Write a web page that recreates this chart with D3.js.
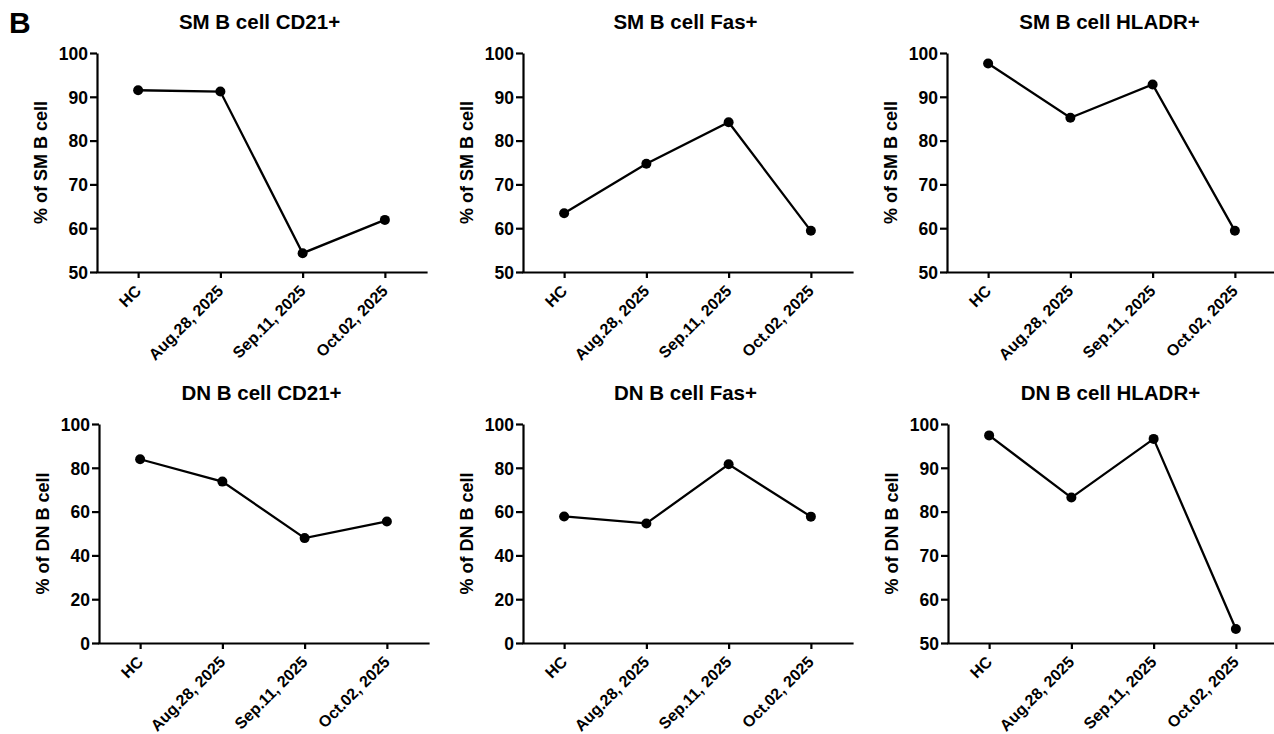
<!DOCTYPE html>
<html>
<head>
<meta charset="utf-8">
<script src="https://cdn.jsdelivr.net/npm/d3@7"></script>
<style>
  body { margin: 0; background: #fff; }
  svg { display: block; font-family: "Liberation Sans", Arial, sans-serif; }
  .axis path, .axis line { stroke: #000; stroke-width: 2.2px; }
  .axis text { fill: #000; font-weight: bold; }
</style>
</head>
<body>
<svg id="chart"></svg>
<script>
const categories = ["HC", "Aug.28, 2025", "Sep.11, 2025", "Oct.02, 2025"];

const smCD21 = [91.5, 91.2, 54.3, 61.9];
const smFas = [63.4, 74.7, 84.2, 59.4];
const smHLADR = [97.6, 85.2, 92.8, 59.4];
const dnCD21 = [83.9, 73.7, 47.9, 55.5];
const dnFas = [57.8, 54.6, 81.6, 57.7];
const dnHLADR = [97.4, 83.2, 96.6, 53.2];

const titles = [
  "SM B cell CD21+", "SM B cell Fas+", "SM B cell HLADR+",
  "DN B cell CD21+", "DN B cell Fas+", "DN B cell HLADR+"
];
const yLabels = ["% of SM B cell", "% of DN B cell"];
const ticksFrom50 = [50, 60, 70, 80, 90, 100];
const ticksFrom0 = [0, 20, 40, 60, 80, 100];

const series = [smCD21, smFas, smHLADR, dnCD21, dnFas, dnHLADR];
const yTicks = [ticksFrom50, ticksFrom50, ticksFrom50, ticksFrom0, ticksFrom0, ticksFrom50];

const w = 1274;
const h = 734;
const plotW = 329;
const plotH = 219;
const lefts = [[97, 523, 947], [99, 523, 948]];
const tops = [53, 424];

const svg = d3.select("#chart").attr("width", w).attr("height", h);

svg.append("text")
  .attr("x", 9)
  .attr("y", 33)
  .attr("font-size", "30px")
  .attr("font-weight", "bold")
  .text("B");

series.forEach((values, i) => {
  const row = Math.floor(i / 3);
  const col = i % 3;
  const g = svg.append("g")
    .attr("transform", `translate(${lefts[row][col]},${tops[row]})`);

  const ticks = yTicks[i];
  const x = d3.scalePoint().domain(categories).range([0, plotW]).padding(0.5);
  const y = d3.scaleLinear().domain([ticks[0], ticks[ticks.length - 1]]).range([plotH, 0]);

  // axes
  g.append("g")
    .attr("class", "axis")
    .attr("transform", `translate(0,${plotH})`)
    .call(d3.axisBottom(x).tickSize(6).tickSizeOuter(0).tickFormat(""))
    .call((a) => a.select(".domain").attr("stroke-linecap", "square"));

  g.append("g")
    .attr("class", "axis")
    .call(d3.axisLeft(y).tickValues(ticks).tickSize(7).tickSizeOuter(0).tickPadding(2))
    .call((a) => a.selectAll("text").attr("font-size", "17.5px").attr("dy", "0.36em"));

  // rotated category labels
  g.selectAll(".xlab")
    .data(categories)
    .enter()
    .append("text")
    .attr("class", "xlab")
    .attr("transform", (d) => `translate(${x(d) + 4},${plotH + 20}) rotate(-45)`)
    .attr("text-anchor", "end")
    .attr("font-size", "16px")
    .attr("font-weight", "bold")
    .text((d) => d);

  // title
  g.append("text")
    .attr("x", plotW / 2 - 2)
    .attr("y", -24)
    .attr("text-anchor", "middle")
    .attr("font-size", "20.5px")
    .attr("font-weight", "bold")
    .text(titles[i]);

  // y label
  g.append("text")
    .attr("transform", `translate(-50,${plotH / 2}) rotate(-90)`)
    .attr("text-anchor", "middle")
    .attr("font-size", "18px")
    .attr("font-weight", "bold")
    .text(yLabels[row]);

  const line = d3.line()
    .x((d, j) => x(categories[j]))
    .y((d) => y(d));

  g.append("path")
    .datum(values)
    .attr("fill", "none")
    .attr("stroke", "#000")
    .attr("stroke-width", 2.3)
    .attr("d", line);

  g.selectAll(".dot")
    .data(values)
    .enter()
    .append("circle")
    .attr("class", "dot")
    .attr("cx", (d, j) => x(categories[j]))
    .attr("cy", (d) => y(d))
    .attr("r", 5)
    .attr("fill", "#000");
});
</script>
</body>
</html>
